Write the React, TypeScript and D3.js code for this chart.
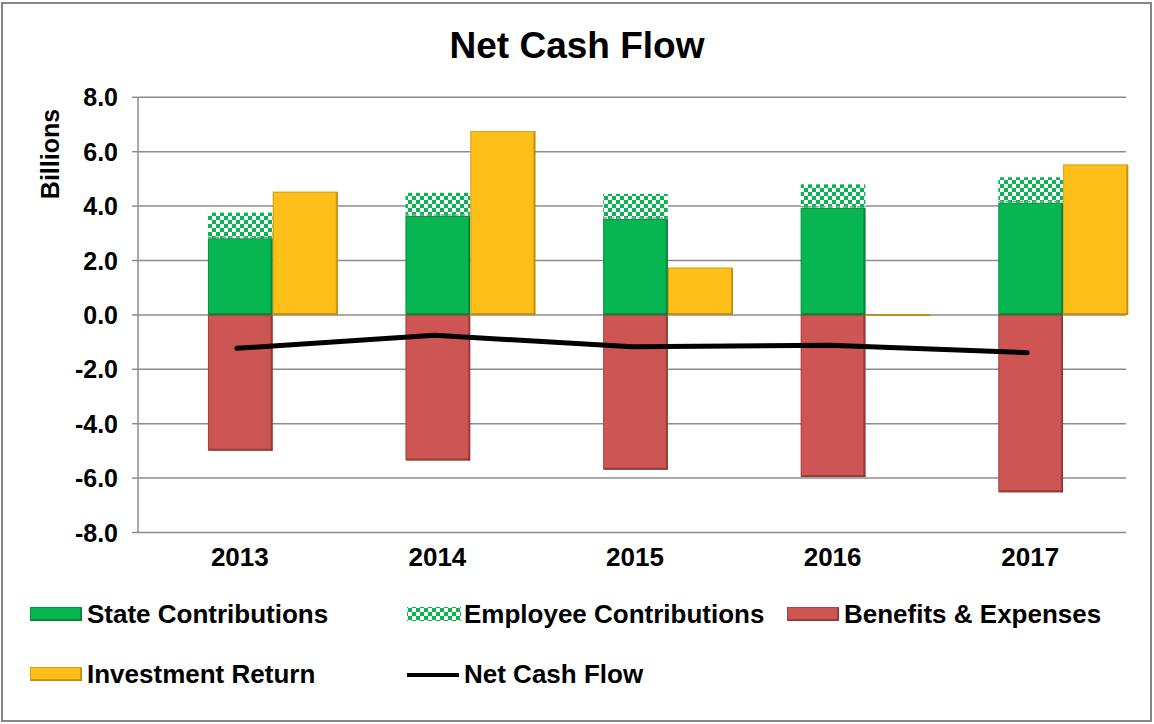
import React from "react";
import * as d3 from "d3";

const years = ["2013", "2014", "2015", "2016", "2017"];
const stateContrib = [2.82, 3.64, 3.53, 3.94, 4.13];
const employeeContrib = [0.94, 0.85, 0.92, 0.86, 0.93];
const benefits = [-4.99, -5.35, -5.69, -5.96, -6.52];
const investment = [4.53, 6.76, 1.74, -0.04, 5.53];
const netCashFlow = [-1.23, -0.75, -1.17, -1.12, -1.39];
const yTicks = [8, 6, 4, 2, 0, -2, -4, -6, -8];

const W = 1154;
const H = 724;
const FONT = "'Liberation Sans', Arial, sans-serif";

const GREEN = "#07B551";
const GREEN_D = "#067A38";
const RED = "#CD5553";
const RED_D = "#8A3431";
const YEL = "#FDBF18";
const YEL_D = "#B8860E";

export default function App() {
  const x = d3.scaleBand<string>().domain(years).range([138, 1126]).padding(0);
  const y = d3.scaleLinear().domain([-8, 8]).range([532.5, 97.3]);
  const bw = x.bandwidth();
  const cx = (i: number) => (x(years[i]) as number) + bw / 2;
  const gOff = -0.146 * bw;
  const gW = 0.327 * bw;
  const yOff = 0.182 * bw;
  const yW = 0.329 * bw;

  const line = d3
    .line<number>()
    .x((_, i) => cx(i))
    .y((d) => y(d));

  const bar = (
    key: string,
    x0: number,
    w: number,
    v0: number,
    v1: number,
    fill: string,
    edge: string
  ) => {
    const top = Math.min(y(v0), y(v1));
    const h = Math.max(Math.abs(y(v0) - y(v1)), 1);
    return (
      <g key={key}>
        <rect x={x0} y={top} width={w} height={h} fill={fill} />
        <rect
          x={x0 + 0.5}
          y={top + 0.5}
          width={Math.max(w - 1, 0)}
          height={Math.max(h - 1, 0)}
          fill="none"
          stroke={edge}
          strokeOpacity={0.55}
          strokeWidth={1}
        />
        <line x1={x0 + w - 1} x2={x0 + w - 1} y1={top + 1} y2={top + h} stroke={edge} strokeWidth={2} strokeOpacity={0.7} />
        <line x1={x0 + 1} x2={x0 + w} y1={top + h - 1} y2={top + h - 1} stroke={edge} strokeWidth={2} strokeOpacity={0.7} />
      </g>
    );
  };

  const legendItems = [
    { label: "State Contributions", x: 30, y: 614, kind: "state" },
    { label: "Employee Contributions", x: 407, y: 614, kind: "emp" },
    { label: "Benefits & Expenses", x: 787, y: 614, kind: "ben" },
    { label: "Investment Return", x: 30, y: 674, kind: "inv" },
    { label: "Net Cash Flow", x: 407, y: 674, kind: "net" },
  ];

  return (
    <svg
      width={W}
      height={H}
      style={{ position: "absolute", left: 0, top: 0, background: "#fff" }}
      fontFamily={FONT}
    >
      <defs>
        <pattern id="checker" width={8} height={8} patternUnits="userSpaceOnUse">
          <rect width={8} height={8} fill="#ffffff" />
          <rect x={0} y={0} width={4} height={4} fill={GREEN} />
          <rect x={4} y={4} width={4} height={4} fill={GREEN} />
        </pattern>
      </defs>
      <rect x={0} y={0} width={W} height={H} fill="#fff" />
      <rect x={2} y={3} width={W - 5} height={H - 6} fill="none" stroke="#868686" strokeWidth={2} />

      <text x={577} y={58} textAnchor="middle" fontSize={37} fontWeight="bold">
        Net Cash Flow
      </text>

      {/* gridlines */}
      {yTicks.map((t) => (
        <g key={t}>
          <line x1={138} x2={1126} y1={y(t)} y2={y(t)} stroke="#8C8C8C" strokeWidth={1.5} />
          <line x1={132} x2={138} y1={y(t)} y2={y(t)} stroke="#8C8C8C" strokeWidth={1.5} />
          <text x={118} y={y(t) + 9} textAnchor="end" fontSize={25} fontWeight="bold">
            {t.toFixed(1)}
          </text>
        </g>
      ))}
      <line x1={138} x2={138} y1={y(8)} y2={y(-8)} stroke="#8C8C8C" strokeWidth={1.5} />

      <text
        transform={`translate(59, ${154}) rotate(-90)`}
        textAnchor="middle"
        fontSize={25}
        fontWeight="bold"
      >
        Billions
      </text>

      {/* bars */}
      {years.map((yr, i) => {
        const c = cx(i);
        return (
          <g key={yr}>
            {bar(`b${i}`, c + gOff, gW, 0, benefits[i], RED, RED_D)}
            {bar(`s${i}`, c + gOff, gW, 0, stateContrib[i], GREEN, GREEN_D)}
            <rect
              x={c + gOff}
              y={y(stateContrib[i] + employeeContrib[i])}
              width={gW}
              height={y(stateContrib[i]) - y(stateContrib[i] + employeeContrib[i])}
              fill="url(#checker)"
            />
            <line
              x1={c + gOff}
              x2={c + gOff + gW}
              y1={y(stateContrib[i]) - 1}
              y2={y(stateContrib[i]) - 1}
              stroke="#9a9a9a"
              strokeDasharray="4 3"
              strokeWidth={1.5}
            />
            {bar(`v${i}`, c + yOff, yW, 0, investment[i], YEL, YEL_D)}
          </g>
        );
      })}

      <path
        d={line(netCashFlow) as string}
        fill="none"
        stroke="#000"
        strokeWidth={5}
        strokeLinecap="round"
        strokeLinejoin="round"
      />

      {/* x labels */}
      {years.map((yr, i) => (
        <text key={yr} x={cx(i) + 3} y={566} textAnchor="middle" fontSize={26} fontWeight="bold">
          {yr}
        </text>
      ))}

      {/* legend */}
      {legendItems.map((it) => (
        <g key={it.label}>
          {it.kind === "net" ? (
            <line x1={it.x} x2={it.x + 52} y1={it.y + 1} y2={it.y + 1} stroke="#000" strokeWidth={4} />
          ) : it.kind === "emp" ? (
            <rect x={it.x} y={it.y - 7} width={54} height={14} fill="url(#checker)" />
          ) : (
            bar(
              it.label,
              it.x,
              52,
              y.invert(it.y - 7),
              y.invert(it.y + 7),
              it.kind === "state" ? GREEN : it.kind === "ben" ? RED : YEL,
              it.kind === "state" ? GREEN_D : it.kind === "ben" ? RED_D : YEL_D
            )
          )}
          <text x={it.x + 57} y={it.y + 9} fontSize={26} fontWeight="bold">
            {it.label}
          </text>
        </g>
      ))}
    </svg>
  );
}
